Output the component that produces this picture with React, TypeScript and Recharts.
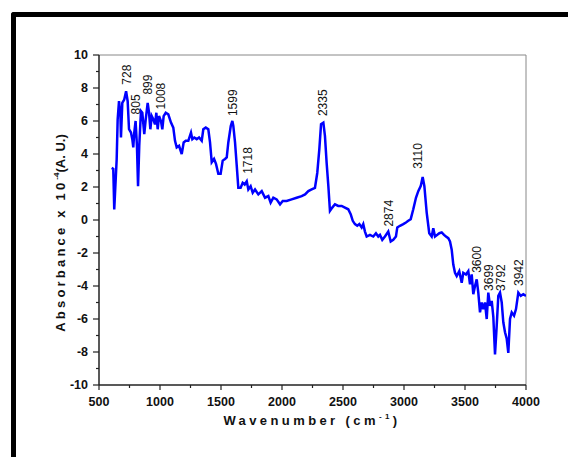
import { LineChart, Line, XAxis, YAxis, ReferenceDot, ReferenceLine } from "recharts"

// FTIR spectrum
const wavenumber = [
  604, 617, 625, 645, 653, 664, 675, 680, 691, 707, 722, 735, 746, 762, 773, 781, 789, 800, 811, 820,
  830, 844, 855, 871, 883, 899, 910, 921, 932, 945, 959, 970, 981, 992, 1008, 1019, 1030, 1047, 1068, 1090,
  1109, 1123, 1137, 1156, 1178, 1194, 1211, 1232, 1254, 1265, 1281, 1301, 1320, 1342, 1355, 1375, 1396, 1410, 1424, 1443,
  1459, 1478, 1497, 1514, 1533, 1547, 1560, 1580, 1593, 1601, 1615, 1629, 1642, 1661, 1678, 1694, 1711, 1724, 1743, 1760,
  1779, 1806, 1834, 1861, 1888, 1907, 1929, 1956, 1984, 2006, 2038, 2079, 2120, 2161, 2189, 2216, 2243, 2270, 2289, 2306,
  2320, 2339, 2352, 2366, 2380, 2393, 2412, 2434, 2461, 2489, 2516, 2543, 2563, 2580, 2598, 2617, 2634, 2653, 2666, 2680,
  2694, 2721, 2748, 2770, 2789, 2803, 2822, 2844, 2871, 2891, 2912, 2934, 2945, 2967, 2994, 3016, 3035, 3055, 3076, 3098,
  3117, 3137, 3153, 3167, 3186, 3207, 3227, 3240, 3254, 3273, 3290, 3309, 3328, 3344, 3363, 3377, 3391, 3404, 3418, 3432,
  3453, 3473, 3486, 3508, 3527, 3541, 3555, 3568, 3582, 3596, 3609, 3623, 3637, 3650, 3664, 3678, 3691, 3705, 3719, 3732,
  3746, 3760, 3773, 3787, 3801, 3814, 3828, 3842, 3855, 3869, 3883, 3902, 3918, 3937, 3957, 3978, 4000,
]
const absorbance = [
  3.16, 3.1, 0.64, 3.7, 6.1, 7.2, 6.5, 5.0, 7.1, 7.3, 7.8, 7.2, 5.5, 5.3, 4.9, 4.4, 5.3, 6.0, 4.5, 2.05,
  4.5, 6.6, 6.5, 5.2, 6.1, 7.1, 6.5, 5.5, 6.3, 6.1, 5.8, 6.5, 5.5, 6.3, 6.0, 5.5, 6.3, 6.5, 6.4, 5.9,
  5.6, 4.8, 4.4, 4.5, 4.0, 4.7, 4.8, 4.8, 5.3, 4.9, 5.0, 4.9, 5.0, 4.8, 5.5, 5.6, 5.5, 4.7, 3.5, 3.7,
  3.4, 2.8, 2.8, 3.6, 3.7, 3.8, 4.7, 5.7, 6.0, 5.7, 4.7, 3.3, 1.95, 1.95, 2.25, 2.15, 2.35, 1.85, 2.05, 1.65,
  1.85, 1.55, 1.75, 1.35, 1.45, 1.05, 1.35, 1.25, 0.95, 1.15, 1.15, 1.25, 1.35, 1.45, 1.55, 1.75, 1.85, 1.95, 2.85, 4.3,
  5.8, 5.9, 5.1, 3.45, 2.05, 0.55, 0.75, 0.95, 0.85, 0.85, 0.75, 0.65, 0.35, -0.05, -0.25, -0.35, -0.25, -0.45, -0.25, -0.7,
  -1.0, -0.9, -1.0, -0.8, -1.0, -0.9, -1.2, -1.0, -0.7, -1.3, -1.2, -1.0, -0.45, -0.35, -0.25, -0.15, -0.05, 0.05, 0.65, 1.35,
  1.75, 2.05, 2.6, 2.05, 0.45, -0.8, -1.0, -0.5, -1.0, -0.9, -0.8, -0.75, -0.9, -1.0, -1.1, -1.3, -1.8, -2.7, -3.2, -3.4,
  -3.1, -3.8, -3.2, -3.3, -3.1, -3.9, -3.3, -4.5, -4.0, -3.6, -4.4, -5.6, -5.0, -5.4, -5.0, -6.0, -4.4, -5.2, -4.9, -5.85,
  -8.15, -6.4, -4.6, -4.4, -5.0, -6.2, -6.8, -7.2, -8.05, -6.0, -5.6, -5.8, -5.4, -4.4, -4.6, -4.5, -4.6,
]

// peak annotations: wavenumber and the value where the rotated label starts
const peakWavenumber = [728, 805, 899, 1008, 1599, 1718, 2335, 2874, 3110, 3600, 3699, 3792, 3942]
const peakLabelY = [8.2, 6.4, 7.6, 6.7, 6.3, 2.8, 6.3, -0.4, 3.1, -3.2, -4.3, -4.3, -4.0]

const xTicks = [500, 750, 1000, 1250, 1500, 1750, 2000, 2250, 2500, 2750, 3000, 3250, 3500, 3750, 4000]
const yTicks = [-10, -9, -8, -7, -6, -5, -4, -3, -2, -1, 0, 1, 2, 3, 4, 5, 6, 7, 8, 9, 10]

const data = wavenumber.map((wn, i) => ({ wn, abs: absorbance[i] }))

const FONT = "'Liberation Sans', Arial, sans-serif"

function XTick({ x, y, payload }: any) {
  const major = payload.value % 500 === 0
  return (
    <g>
      <line x1={x} x2={x} y1={y} y2={y + (major ? 5 : 3)} stroke="#222" strokeWidth={1.2} />
      {major && (
        <text x={x} y={y + 17} dy="0.35em" textAnchor="middle" fontFamily={FONT} fontSize={12.5} fontWeight="bold" fill="#111">
          {payload.value}
        </text>
      )}
    </g>
  )
}

function YTick({ x, y, payload }: any) {
  const major = payload.value % 2 === 0
  return (
    <g>
      <line x1={x - (major ? 6 : 3)} x2={x} y1={y} y2={y} stroke="#222" strokeWidth={1.2} />
      {major && (
        <text x={x - 11} y={y} dy="0.35em" textAnchor="end" fontFamily={FONT} fontSize={12.5} fontWeight="bold" fill="#111">
          {payload.value}
        </text>
      )}
    </g>
  )
}

const PeakLabel = (text: number) => (props: any) => {
  const { x, y } = props.viewBox
  return (
    <text
      x={x}
      y={y}
      dy="0.35em"
      transform={`rotate(-90 ${x} ${y})`}
      textAnchor="start"
      fontFamily={FONT}
      fontSize={12}
      fill="#111"
    >
      {text}
    </text>
  )
}

const YTitle = () => (
  <text
    x={60}
    y={233}
    dy="0.35em"
    transform="rotate(-90 60 233)"
    textAnchor="middle"
    fontFamily={FONT}
    fontSize={13}
    fontWeight="bold"
    fill="#111"
  >
    <tspan letterSpacing={3.2}>Absorbance x 10</tspan>
    <tspan fontSize={8} dy={-6}>-4</tspan>
    <tspan dy={6}>(A. U.)</tspan>
  </text>
)

const XTitle = () => (
  <text x={312} y={420} dy="0.35em" textAnchor="middle" fontFamily={FONT} fontSize={13} fontWeight="bold" fill="#111" letterSpacing={3.4}>
    <tspan>Wavenumber (cm</tspan>
    <tspan fontSize={8} dy={-6}>-1</tspan>
    <tspan dy={6}>)</tspan>
  </text>
)

export default function App() {
  return (
    <div style={{ position: "absolute", left: 0, top: 0, width: 568, height: 457, overflow: "hidden", background: "#fff" }}>
      <div
        style={{
          position: "absolute",
          left: 11,
          top: 12,
          width: 600,
          height: 500,
          borderTop: "5px solid #000",
          borderLeft: "5px solid #000",
          borderTopLeftRadius: 3,
        }}
      />
      <div style={{ position: "absolute", left: 0, top: 0 }}>
        <LineChart width={568} height={457} data={data} margin={{ top: 55, right: 42, left: 39, bottom: 42 }}>
          <XAxis
            dataKey="wn"
            type="number"
            domain={[500, 4000]}
            ticks={xTicks}
            interval={0}
            allowDataOverflow
            height={30}
            tickSize={0}
            tickMargin={0}
            tickLine={false}
            axisLine={{ stroke: "#222", strokeWidth: 1.5 }}
            tick={<XTick />}
            label={{ content: () => <XTitle /> }}
          />
          <YAxis
            type="number"
            domain={[-10, 10]}
            ticks={yTicks}
            interval={0}
            allowDataOverflow
            width={60}
            tickSize={0}
            tickMargin={0}
            tickLine={false}
            axisLine={{ stroke: "#222", strokeWidth: 1.5 }}
            tick={<YTick />}
            label={{ content: () => <YTitle /> }}
          />
          <ReferenceLine y={10} stroke="#888" strokeWidth={1} />
          <ReferenceLine x={4000} stroke="#888" strokeWidth={1} />
          <Line
            dataKey="abs"
            type="linear"
            stroke="#0000ff"
            strokeWidth={2.5}
            dot={false}
            isAnimationActive={false}
          />
          {peakWavenumber.map((wn, i) => (
            <ReferenceDot
              key={wn}
              x={wn}
              y={peakLabelY[i]}
              r={0}
              fill="none"
              stroke="none"
              label={{ content: PeakLabel(wn) }}
            />
          ))}
        </LineChart>
      </div>
    </div>
  )
}
